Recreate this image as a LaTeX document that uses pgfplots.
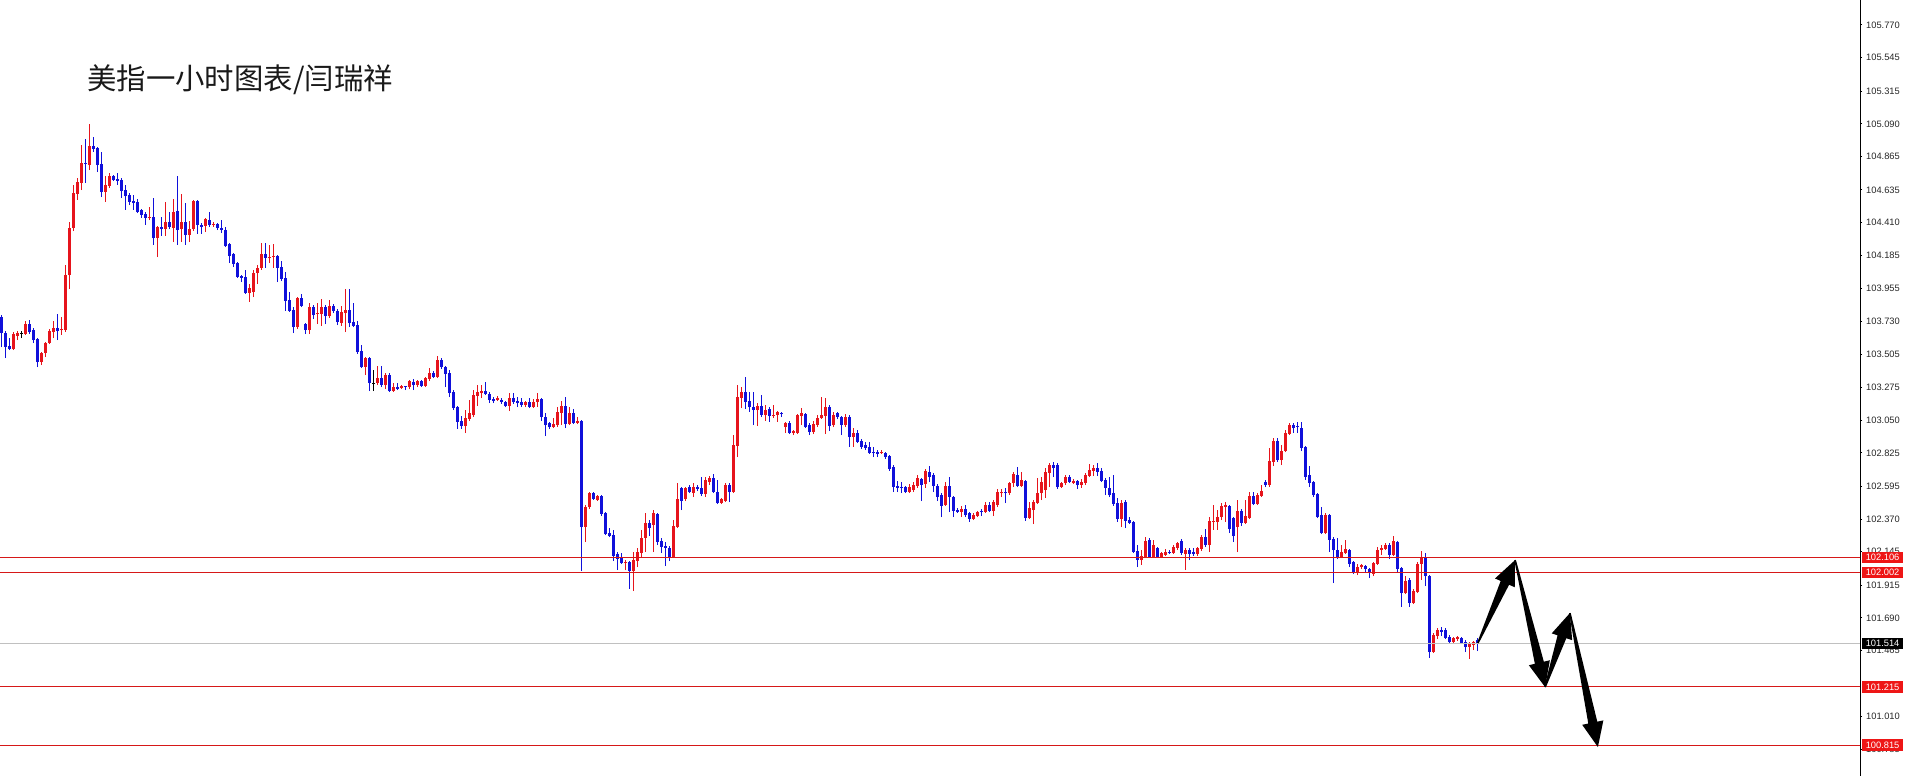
\documentclass[border=0pt]{standalone}
\usepackage{fontspec}
\setmainfont{Liberation Sans}
\newfontfamily\cjk{Noto Sans CJK SC}
\usepackage{pgfplots}
\pgfplotsset{compat=1.18}
\usepackage{pgfplotstable}
\usetikzlibrary{calc}

\definecolor{cred}{RGB}{230,20,28}
\definecolor{cblue}{RGB}{16,16,218}
\definecolor{lvred}{RGB}{214,24,24}
\definecolor{boxred}{RGB}{238,22,22}
\definecolor{curgray}{RGB}{192,192,192}
\newcommand\lab{\fontsize{4.65pt}{5pt}\selectfont}

% hourly candles: index, open, high, low, close
\pgfplotstableread{
i o h l c
0 103.760 103.774 103.554 103.650
1 103.650 103.664 103.478 103.554
2 103.561 103.616 103.533 103.540
3 103.540 103.657 103.533 103.643
4 103.630 103.664 103.602 103.650
5 103.650 103.664 103.616 103.650
6 103.643 103.733 103.637 103.712
7 103.712 103.740 103.643 103.657
8 103.671 103.685 103.581 103.602
9 103.609 103.616 103.416 103.450
10 103.450 103.519 103.430 103.512
11 103.512 103.588 103.485 103.581
12 103.581 103.678 103.574 103.664
13 103.657 103.733 103.616 103.685
14 103.685 103.781 103.602 103.664
15 103.671 103.760 103.637 103.678
16 103.671 104.118 103.657 104.049
17 104.049 104.414 103.953 104.373
18 104.373 104.669 104.352 104.614
19 104.607 104.717 104.566 104.690
20 104.683 104.944 104.634 104.820
21 104.820 104.985 104.683 104.813
22 104.806 105.089 104.772 104.937
23 104.937 104.999 104.896 104.917
24 104.924 104.930 104.758 104.806
25 104.813 104.896 104.586 104.621
26 104.621 104.731 104.552 104.669
27 104.662 104.751 104.648 104.731
28 104.731 104.738 104.696 104.703
29 104.710 104.751 104.669 104.696
30 104.703 104.717 104.579 104.627
31 104.634 104.669 104.497 104.593
32 104.600 104.614 104.531 104.552
33 104.559 104.600 104.497 104.545
34 104.552 104.572 104.476 104.483
35 104.497 104.504 104.442 104.462
36 104.469 104.483 104.394 104.442
37 104.442 104.517 104.428 104.449
38 104.449 104.579 104.256 104.304
39 104.304 104.387 104.173 104.380
40 104.380 104.449 104.318 104.366
41 104.366 104.552 104.318 104.414
42 104.414 104.483 104.366 104.380
43 104.373 104.572 104.276 104.483
44 104.490 104.731 104.256 104.359
45 104.366 104.607 104.276 104.414
46 104.414 104.545 104.256 104.325
47 104.325 104.421 104.276 104.366
48 104.366 104.566 104.352 104.559
49 104.559 104.566 104.332 104.394
50 104.394 104.407 104.332 104.380
51 104.387 104.442 104.345 104.435
52 104.428 104.483 104.380 104.394
53 104.394 104.414 104.380 104.400
54 104.400 104.407 104.359 104.373
55 104.373 104.428 104.338 104.359
56 104.359 104.380 104.242 104.249
57 104.263 104.270 104.132 104.180
58 104.194 104.201 104.104 104.125
59 104.132 104.139 104.029 104.036
60 104.042 104.049 104.001 104.029
61 104.036 104.084 103.919 103.925
62 103.925 103.987 103.864 103.960
63 103.932 104.084 103.898 104.063
64 104.063 104.118 103.987 104.098
65 104.098 104.270 104.084 104.194
66 104.194 104.270 104.098 104.166
67 104.166 104.256 104.132 104.173
68 104.173 104.263 104.098 104.180
69 104.180 104.187 104.001 104.098
70 104.104 104.146 104.008 104.022
71 104.029 104.070 103.802 103.870
72 103.877 103.932 103.795 103.802
73 103.808 103.829 103.650 103.691
74 103.691 103.898 103.678 103.891
75 103.891 103.919 103.829 103.836
76 103.712 103.719 103.643 103.671
77 103.671 103.856 103.643 103.829
78 103.829 103.843 103.746 103.774
79 103.781 103.856 103.712 103.788
80 103.781 103.884 103.699 103.829
81 103.829 103.843 103.712 103.767
82 103.767 103.877 103.753 103.836
83 103.836 103.850 103.788 103.802
84 103.802 103.815 103.705 103.726
85 103.719 103.836 103.699 103.795
86 103.788 103.953 103.657 103.808
87 103.808 103.953 103.691 103.719
88 103.726 103.856 103.691 103.699
89 103.705 103.733 103.506 103.519
90 103.526 103.568 103.409 103.416
91 103.416 103.485 103.361 103.478
92 103.478 103.485 103.251 103.306
93 103.306 103.396 103.251 103.306
94 103.306 103.423 103.292 103.340
95 103.340 103.423 103.278 103.292
96 103.292 103.375 103.265 103.361
97 103.361 103.375 103.244 103.251
98 103.251 103.306 103.244 103.278
99 103.278 103.306 103.258 103.265
100 103.272 103.292 103.265 103.285
101 103.283 103.285 103.258 103.276
102 103.278 103.327 103.265 103.320
103 103.313 103.334 103.258 103.292
104 103.292 103.327 103.278 103.320
105 103.320 103.327 103.278 103.285
106 103.285 103.347 103.278 103.340
107 103.334 103.409 103.320 103.375
108 103.375 103.389 103.340 103.347
109 103.347 103.492 103.340 103.464
110 103.464 103.478 103.402 103.416
111 103.416 103.423 103.278 103.368
112 103.375 103.396 103.210 103.237
113 103.244 103.258 103.120 103.134
114 103.141 103.148 102.990 103.038
115 103.045 103.079 102.990 103.010
116 103.010 103.120 102.962 103.065
117 103.058 103.189 103.045 103.100
118 103.086 103.258 103.072 103.223
119 103.217 103.292 103.148 103.244
120 103.237 103.292 103.203 103.251
121 103.251 103.313 103.223 103.230
122 103.230 103.244 103.168 103.189
123 103.196 103.210 103.168 103.182
124 103.189 103.217 103.182 103.203
125 103.189 103.203 103.162 103.175
126 103.175 103.182 103.141 103.148
127 103.148 103.237 103.113 103.203
128 103.203 103.237 103.162 103.175
129 103.182 103.210 103.141 103.168
130 103.175 103.203 103.141 103.155
131 103.155 103.182 103.141 103.175
132 103.175 103.203 103.134 103.141
133 103.141 103.196 103.134 103.175
134 103.175 103.237 103.141 103.196
135 103.196 103.203 103.045 103.072
136 103.072 103.100 102.941 103.017
137 103.031 103.038 102.990 103.003
138 103.003 103.065 102.996 103.024
139 103.017 103.141 103.003 103.107
140 103.100 103.182 103.017 103.148
141 103.148 103.210 102.996 103.024
142 103.024 103.141 103.017 103.100
143 103.100 103.127 103.024 103.031
144 103.031 103.072 103.024 103.045
145 103.045 103.052 102.012 102.315
146 102.315 102.466 102.212 102.453
147 102.453 102.556 102.439 102.549
148 102.549 102.556 102.501 102.508
149 102.501 102.535 102.494 102.528
150 102.528 102.535 102.391 102.405
151 102.412 102.419 102.260 102.267
152 102.274 102.308 102.246 102.253
153 102.260 102.295 102.081 102.116
154 102.130 102.143 102.019 102.095
155 102.102 102.136 102.061 102.067
156 102.067 102.088 102.019 102.074
157 102.074 102.081 101.889 102.012
158 102.012 102.143 101.875 102.088
159 102.081 102.171 102.040 102.143
160 102.136 102.295 102.109 102.240
161 102.240 102.412 102.143 102.343
162 102.343 102.363 102.253 102.308
163 102.329 102.432 102.143 102.412
164 102.405 102.412 102.191 102.212
165 102.219 102.240 102.136 102.178
166 102.185 102.212 102.047 102.171
167 102.171 102.185 102.081 102.109
168 102.109 102.363 102.102 102.322
169 102.315 102.618 102.308 102.508
170 102.584 102.590 102.432 102.494
171 102.508 102.590 102.494 102.584
172 102.590 102.604 102.549 102.556
173 102.549 102.618 102.521 102.590
174 102.590 102.604 102.563 102.577
175 102.584 102.659 102.528 102.542
176 102.542 102.659 102.521 102.639
177 102.625 102.666 102.604 102.652
178 102.652 102.680 102.549 102.556
179 102.556 102.639 102.473 102.480
180 102.480 102.515 102.473 102.508
181 102.494 102.618 102.487 102.604
182 102.604 102.618 102.487 102.556
183 102.556 102.948 102.549 102.879
184 102.872 103.292 102.797 103.210
185 103.203 103.278 103.134 103.244
186 103.244 103.347 103.127 103.175
187 103.182 103.244 103.107 103.141
188 103.141 103.244 103.017 103.120
189 103.120 103.168 103.010 103.148
190 103.148 103.223 103.072 103.086
191 103.086 103.155 103.045 103.120
192 103.127 103.141 103.038 103.079
193 103.079 103.155 103.065 103.086
194 103.086 103.113 103.038 103.107
195 103.100 103.107 103.072 103.093
196 103.003 103.038 102.962 103.031
197 103.031 103.045 102.955 102.962
198 102.962 102.983 102.948 102.976
199 102.962 103.093 102.955 103.086
200 103.079 103.134 103.017 103.100
201 103.093 103.100 102.996 103.003
202 103.017 103.031 102.948 102.969
203 102.969 103.045 102.955 103.024
204 103.017 103.086 103.003 103.065
205 103.065 103.210 103.058 103.086
206 103.079 103.203 102.955 103.141
207 103.141 103.155 102.976 103.010
208 103.017 103.107 103.003 103.086
209 103.100 103.107 103.058 103.072
210 103.072 103.079 102.948 103.017
211 103.017 103.093 103.003 103.072
212 103.072 103.086 102.866 102.934
213 102.934 102.996 102.866 102.962
214 102.962 102.983 102.893 102.900
215 102.907 102.921 102.852 102.866
216 102.879 102.900 102.845 102.859
217 102.866 102.900 102.818 102.824
218 102.831 102.866 102.797 102.824
219 102.831 102.845 102.797 102.818
220 102.824 102.845 102.818 102.831
221 102.824 102.831 102.783 102.797
222 102.804 102.811 102.701 102.714
223 102.728 102.742 102.556 102.590
224 102.597 102.632 102.556 102.584
225 102.590 102.625 102.549 102.584
226 102.590 102.597 102.549 102.556
227 102.556 102.611 102.549 102.590
228 102.570 102.625 102.556 102.604
229 102.597 102.673 102.584 102.652
230 102.645 102.652 102.494 102.604
231 102.611 102.714 102.584 102.701
232 102.694 102.735 102.625 102.659
233 102.673 102.687 102.556 102.597
234 102.597 102.611 102.494 102.521
235 102.535 102.549 102.384 102.460
236 102.466 102.625 102.460 102.597
237 102.597 102.659 102.418 102.521
238 102.521 102.528 102.384 102.425
239 102.432 102.446 102.412 102.418
240 102.418 102.460 102.384 102.439
241 102.439 102.466 102.384 102.398
242 102.412 102.418 102.350 102.370
243 102.370 102.412 102.363 102.398
244 102.391 102.425 102.384 102.418
245 102.425 102.439 102.391 102.418
246 102.418 102.487 102.412 102.466
247 102.466 102.487 102.418 102.425
248 102.425 102.501 102.391 102.487
249 102.466 102.577 102.453 102.556
250 102.549 102.577 102.521 102.556
251 102.556 102.584 102.480 102.549
252 102.549 102.625 102.535 102.618
253 102.618 102.694 102.590 102.680
254 102.673 102.728 102.590 102.597
255 102.597 102.694 102.590 102.639
256 102.632 102.639 102.357 102.377
257 102.377 102.487 102.370 102.446
258 102.432 102.501 102.336 102.487
259 102.480 102.652 102.473 102.549
260 102.549 102.659 102.501 102.625
261 102.570 102.721 102.515 102.694
262 102.687 102.756 102.590 102.742
263 102.742 102.762 102.659 102.721
264 102.742 102.756 102.577 102.590
265 102.590 102.625 102.584 102.618
266 102.618 102.673 102.604 102.659
267 102.659 102.673 102.618 102.625
268 102.618 102.645 102.611 102.632
269 102.632 102.639 102.577 102.604
270 102.604 102.645 102.584 102.625
271 102.618 102.687 102.604 102.673
272 102.666 102.749 102.659 102.707
273 102.701 102.742 102.666 102.721
274 102.721 102.756 102.666 102.694
275 102.701 102.721 102.625 102.632
276 102.639 102.652 102.535 102.584
277 102.584 102.659 102.521 102.535
278 102.549 102.673 102.460 102.473
279 102.480 102.515 102.350 102.370
280 102.370 102.501 102.315 102.480
281 102.487 102.501 102.308 102.357
282 102.363 102.384 102.336 102.343
283 102.350 102.357 102.136 102.143
284 102.150 102.191 102.040 102.088
285 102.088 102.157 102.054 102.116
286 102.109 102.246 102.102 102.219
287 102.226 102.240 102.102 102.109
288 102.109 102.226 102.102 102.191
289 102.171 102.178 102.102 102.109
290 102.109 102.143 102.102 102.136
291 102.123 102.164 102.116 102.143
292 102.143 102.157 102.130 102.136
293 102.136 102.191 102.130 102.178
294 102.171 102.212 102.157 102.205
295 102.219 102.233 102.123 102.136
296 102.130 102.171 102.019 102.157
297 102.157 102.171 102.088 102.130
298 102.143 102.171 102.116 102.130
299 102.130 102.178 102.116 102.171
300 102.164 102.260 102.150 102.246
301 102.246 102.301 102.178 102.191
302 102.191 102.384 102.143 102.357
303 102.350 102.466 102.295 102.357
304 102.350 102.432 102.295 102.384
305 102.384 102.480 102.363 102.460
306 102.453 102.487 102.350 102.466
307 102.460 102.466 102.274 102.301
308 102.377 102.384 102.212 102.253
309 102.315 102.501 102.143 102.425
310 102.425 102.439 102.322 102.343
311 102.343 102.501 102.336 102.391
312 102.377 102.556 102.370 102.528
313 102.528 102.556 102.466 102.473
314 102.473 102.549 102.466 102.535
315 102.528 102.604 102.521 102.563
316 102.625 102.639 102.590 102.604
317 102.604 102.859 102.590 102.769
318 102.762 102.928 102.735 102.907
319 102.907 102.928 102.762 102.776
320 102.776 102.879 102.742 102.838
321 102.838 102.983 102.831 102.962
322 102.955 103.031 102.948 103.017
323 103.017 103.031 102.962 102.996
324 103.010 103.038 102.962 103.003
325 102.996 103.038 102.838 102.859
326 102.866 102.873 102.639 102.659
327 102.673 102.735 102.590 102.618
328 102.625 102.632 102.521 102.535
329 102.542 102.549 102.377 102.384
330 102.398 102.453 102.267 102.274
331 102.274 102.412 102.267 102.398
332 102.398 102.405 102.143 102.226
333 102.233 102.246 101.930 102.157
334 102.157 102.240 102.095 102.109
335 102.109 102.191 102.102 102.143
336 102.136 102.226 102.130 102.164
337 102.157 102.164 102.040 102.061
338 102.074 102.081 101.992 101.999
339 102.006 102.061 101.985 102.040
340 102.040 102.061 102.026 102.054
341 102.047 102.054 101.999 102.026
342 102.026 102.033 101.964 101.999
343 101.992 102.074 101.978 102.067
344 102.061 102.178 102.054 102.157
345 102.157 102.191 102.123 102.171
346 102.164 102.205 102.157 102.191
347 102.191 102.205 102.095 102.123
348 102.123 102.253 102.116 102.219
349 102.212 102.219 102.006 102.026
350 102.033 102.040 101.765 101.861
351 101.861 101.978 101.854 101.944
352 101.951 101.964 101.765 101.792
353 101.792 101.889 101.785 101.875
354 101.868 102.074 101.861 102.061
355 102.061 102.150 101.951 102.109
356 102.109 102.136 101.909 101.978
357 101.978 101.985 101.414 101.455
358 101.455 101.586 101.448 101.572
359 101.565 101.620 101.544 101.606
360 101.606 101.627 101.565 101.593
361 101.606 101.620 101.544 101.551
362 101.558 101.572 101.517 101.524
363 101.524 101.558 101.517 101.551
364 101.544 101.565 101.531 101.558
365 101.551 101.558 101.510 101.517
366 101.524 101.538 101.455 101.489
367 101.489 101.524 101.407 101.517
368 101.503 101.531 101.469 101.524
369 101.538 101.551 101.462 101.514
}\candles

% tapered arrow from #1 to #2
\newcommand\tarrow[2]{%
  \coordinate (hb) at ($(#2)!12.5pt!(#1)$);
  \fill[black] ($(#1)!0.4pt!90:(#2)$) -- ($(hb)!2.3pt!-90:(#1)$) -- ($(hb)!5.4pt!-90:(#1)$)
    -- (#2) -- ($(hb)!5.4pt!90:(#1)$) -- ($(hb)!2.3pt!90:(#1)$) -- ($(#1)!0.4pt!-90:(#2)$) -- cycle;
}

\pgfplotsset{
  candle/.style n args={2}{draw=none, mark=none, forget plot,
    error bars/.cd, y dir=plus, y explicit, error mark=none,
    error bar style={draw=#1, line width=#2}},
}

\begin{document}
\begin{tikzpicture}
\begin{axis}[
  at={(0,0)}, anchor=south west,
  width=930pt, height=388pt, scale only axis,
  xmin=-0.375, xmax=464.625,
  ymin=100.602, ymax=105.942,
  hide x axis,
  axis y line*=right,
  axis line style={black, line width=0.5pt},
  ytick={100.785,101.010,101.465,101.690,101.915,102.145,102.370,102.595,102.825,103.050,103.275,103.505,103.730,103.955,104.185,104.410,104.635,104.865,105.090,105.315,105.545,105.770},
  scaled y ticks=false,
  tick align=outside,
  major tick length=1.1pt,
  tick style={black, line width=0.5pt},
  yticklabel style={font=\lab, text=black!85, anchor=west, inner sep=0pt, xshift=1.8pt,
    /pgf/number format/.cd, fixed, fixed zerofill, precision=3, 1000 sep={}, assume math mode=true},
  clip=true,
]
% wicks
\addplot[restrict expr to domain={\thisrow{c}-\thisrow{o}}{0.0005:10}, candle={cred}{0.5pt}]
  table[x=i, y=l, y error plus expr=\thisrow{h}-\thisrow{l}] {\candles};
\addplot[restrict expr to domain={\thisrow{c}-\thisrow{o}}{-10:-0.0005}, candle={cblue}{0.5pt}]
  table[x=i, y=l, y error plus expr=\thisrow{h}-\thisrow{l}] {\candles};
\addplot[restrict expr to domain={\thisrow{c}-\thisrow{o}}{-0.0005:0.0005}, candle={black}{0.5pt}]
  table[x=i, y=l, y error plus expr=\thisrow{h}-\thisrow{l}] {\candles};
% bodies
\addplot[restrict expr to domain={\thisrow{c}-\thisrow{o}}{0.0005:10}, candle={cred}{1.35pt}]
  table[x=i, y=o, y error plus expr=\thisrow{c}-\thisrow{o}] {\candles};
\addplot[restrict expr to domain={\thisrow{c}-\thisrow{o}}{-10:-0.0005}, candle={cblue}{1.35pt}]
  table[x=i, y=c, y error plus expr=\thisrow{o}-\thisrow{c}] {\candles};
\addplot[only marks, mark=-, mark size=0.8pt, draw=black, mark options={draw=black, line width=0.5pt}, forget plot,
  restrict expr to domain={\thisrow{c}-\thisrow{o}}{-0.0005:0.0005}]
  table[x=i, y=o] {\candles};

% price levels
\addplot[curgray, line width=0.5pt, mark=none] coordinates {(-0.375,101.514) (464.625,101.514)};
\addplot[lvred, line width=0.5pt, mark=none] coordinates {(-0.375,102.106) (464.625,102.106)};
\addplot[lvred, line width=0.5pt, mark=none] coordinates {(-0.375,102.002) (464.625,102.002)};
\addplot[lvred, line width=0.5pt, mark=none] coordinates {(-0.375,101.215) (464.625,101.215)};
\addplot[lvred, line width=0.5pt, mark=none] coordinates {(-0.375,100.815) (464.625,100.815)};

\coordinate (L1) at (axis cs:464.625,102.106);
\coordinate (L2) at (axis cs:464.625,102.002);
\coordinate (L3) at (axis cs:464.625,101.514);
\coordinate (L4) at (axis cs:464.625,101.215);
\coordinate (L5) at (axis cs:464.625,100.815);

\coordinate (A0) at (axis cs:369.1,101.517);
\coordinate (A1) at (axis cs:378.4,102.088);
\coordinate (A2) at (axis cs:385.9,101.214);
\coordinate (A3) at (axis cs:392.1,101.723);
\coordinate (A4) at (axis cs:399.1,100.801);
\end{axis}

% level labels on the price scale
\foreach \c/\t in {L1/102.106, L2/102.002, L4/101.215, L5/100.815}{
  \node[fill=boxred, text=white, font=\lab, anchor=west, inner sep=0pt,
        minimum width=20.4pt, minimum height=5.6pt] at ($(\c)+(0.9pt,0)$) {\t};
}
\node[fill=black, text=white, font=\lab, anchor=west, inner sep=0pt,
      minimum width=20.4pt, minimum height=5.2pt] at ($(L3)+(0.9pt,0)$) {101.514};

% forecast arrows
\tarrow{A0}{A1}
\tarrow{A1}{A2}
\tarrow{A2}{A3}
\tarrow{A3}{A4}

% title
\node[anchor=west, inner sep=0pt, font={\cjk\fontsize{14.7pt}{17pt}\selectfont}, text=black!90]
  at (43.5pt,348pt) {美指一小时图表/闫瑞祥};

\pgfresetboundingbox
\useasboundingbox (0,0) rectangle (954pt,388pt);
\end{tikzpicture}
\end{document}
